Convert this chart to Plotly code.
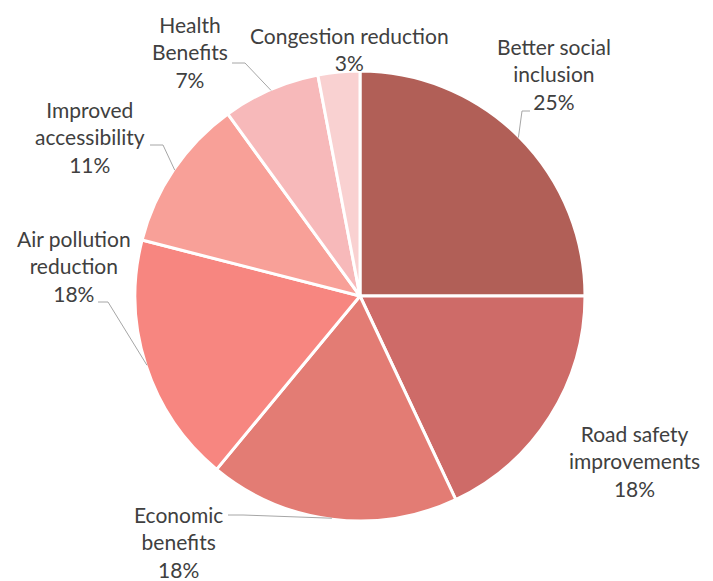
"""Pie chart of benefits, with outside labels and leader lines."""

import math
import plotly.graph_objects as go

W, H = 713, 581
OFF = 8  # page body margin around the plot div

categories = ["Better social inclusion", "Road safety improvements", "Economic benefits",
              "Air pollution reduction", "Improved accessibility", "Health Benefits",
              "Congestion reduction"]
shares = [25, 18, 18, 18, 11, 7, 3]
label_text = ["Better social<br>inclusion", "Road safety<br>improvements", "Economic<br>benefits",
              "Air pollution<br>reduction", "Improved<br>accessibility", "Health<br>Benefits",
              "Congestion reduction"]
colors = ["#B15F57", "#CE6B68", "#E37C74", "#F78680", "#F8A098", "#F7B9BA", "#F9D1D1"]

# pie geometry in screen pixels
CX, CY, R = 360, 296, 225

# label centre (px) and leader elbow/end (px); None = no leader line
label_pos = [(554, 74), (634, 461), (178, 542), (74, 266), (90, 137), (190, 52), (349, 49)]
leaders = [((522, 111), (530, 111)), None, ((243, 515), (228, 515)),
           ((108, 302), (98, 302)), ((163, 145), (150, 145)), ((245, 63), (232, 63)), None]


def px(x, y):
    # screen pixel -> paper coords of the div that starts at (OFF, OFF)
    return (x - OFF) / W, (H - (y - OFF)) / H


x0, y0 = px(CX - R, CY + R)
x1, y1 = px(CX + R, CY - R)

fig = go.Figure(go.Pie(
    labels=categories,
    values=shares,
    sort=False,
    direction="clockwise",
    rotation=0,
    marker=dict(colors=colors, line=dict(color="white", width=3)),
    textinfo="none",
    hoverinfo="label+percent",
    domain=dict(x=[x0, x1], y=[y0, y1]),
))

total = sum(shares)
cum = 0
for cat, val, txt, pos, lead in zip(categories, shares, label_text, label_pos, leaders):
    mid = (cum + val / 2) / total * 2 * math.pi
    cum += val
    pct = round(val / total * 100)
    lx, ly = px(*pos)
    fig.add_annotation(x=lx, y=ly, xref="paper", yref="paper", showarrow=False,
                       xanchor="center", yanchor="middle",
                       text=f"{txt}<br>{pct}%", align="center",
                       font=dict(family="Lato", size=21, color="#404040"))
    if lead:
        rx, ry = CX + (R - 1) * math.sin(mid), CY - (R - 1) * math.cos(mid)
        pts = [px(rx, ry), px(*lead[0]), px(*lead[1])]
        path = "M " + " L ".join(f"{a},{b}" for a, b in pts)
        fig.add_shape(type="path", path=path, xref="paper", yref="paper",
                      line=dict(color="#A6A6A6", width=1))

fig.update_layout(
    width=W, height=H,
    margin=dict(l=0, r=0, t=0, b=0),
    showlegend=False,
    paper_bgcolor="white",
    plot_bgcolor="white",
)

fig.write_html("out.html")
